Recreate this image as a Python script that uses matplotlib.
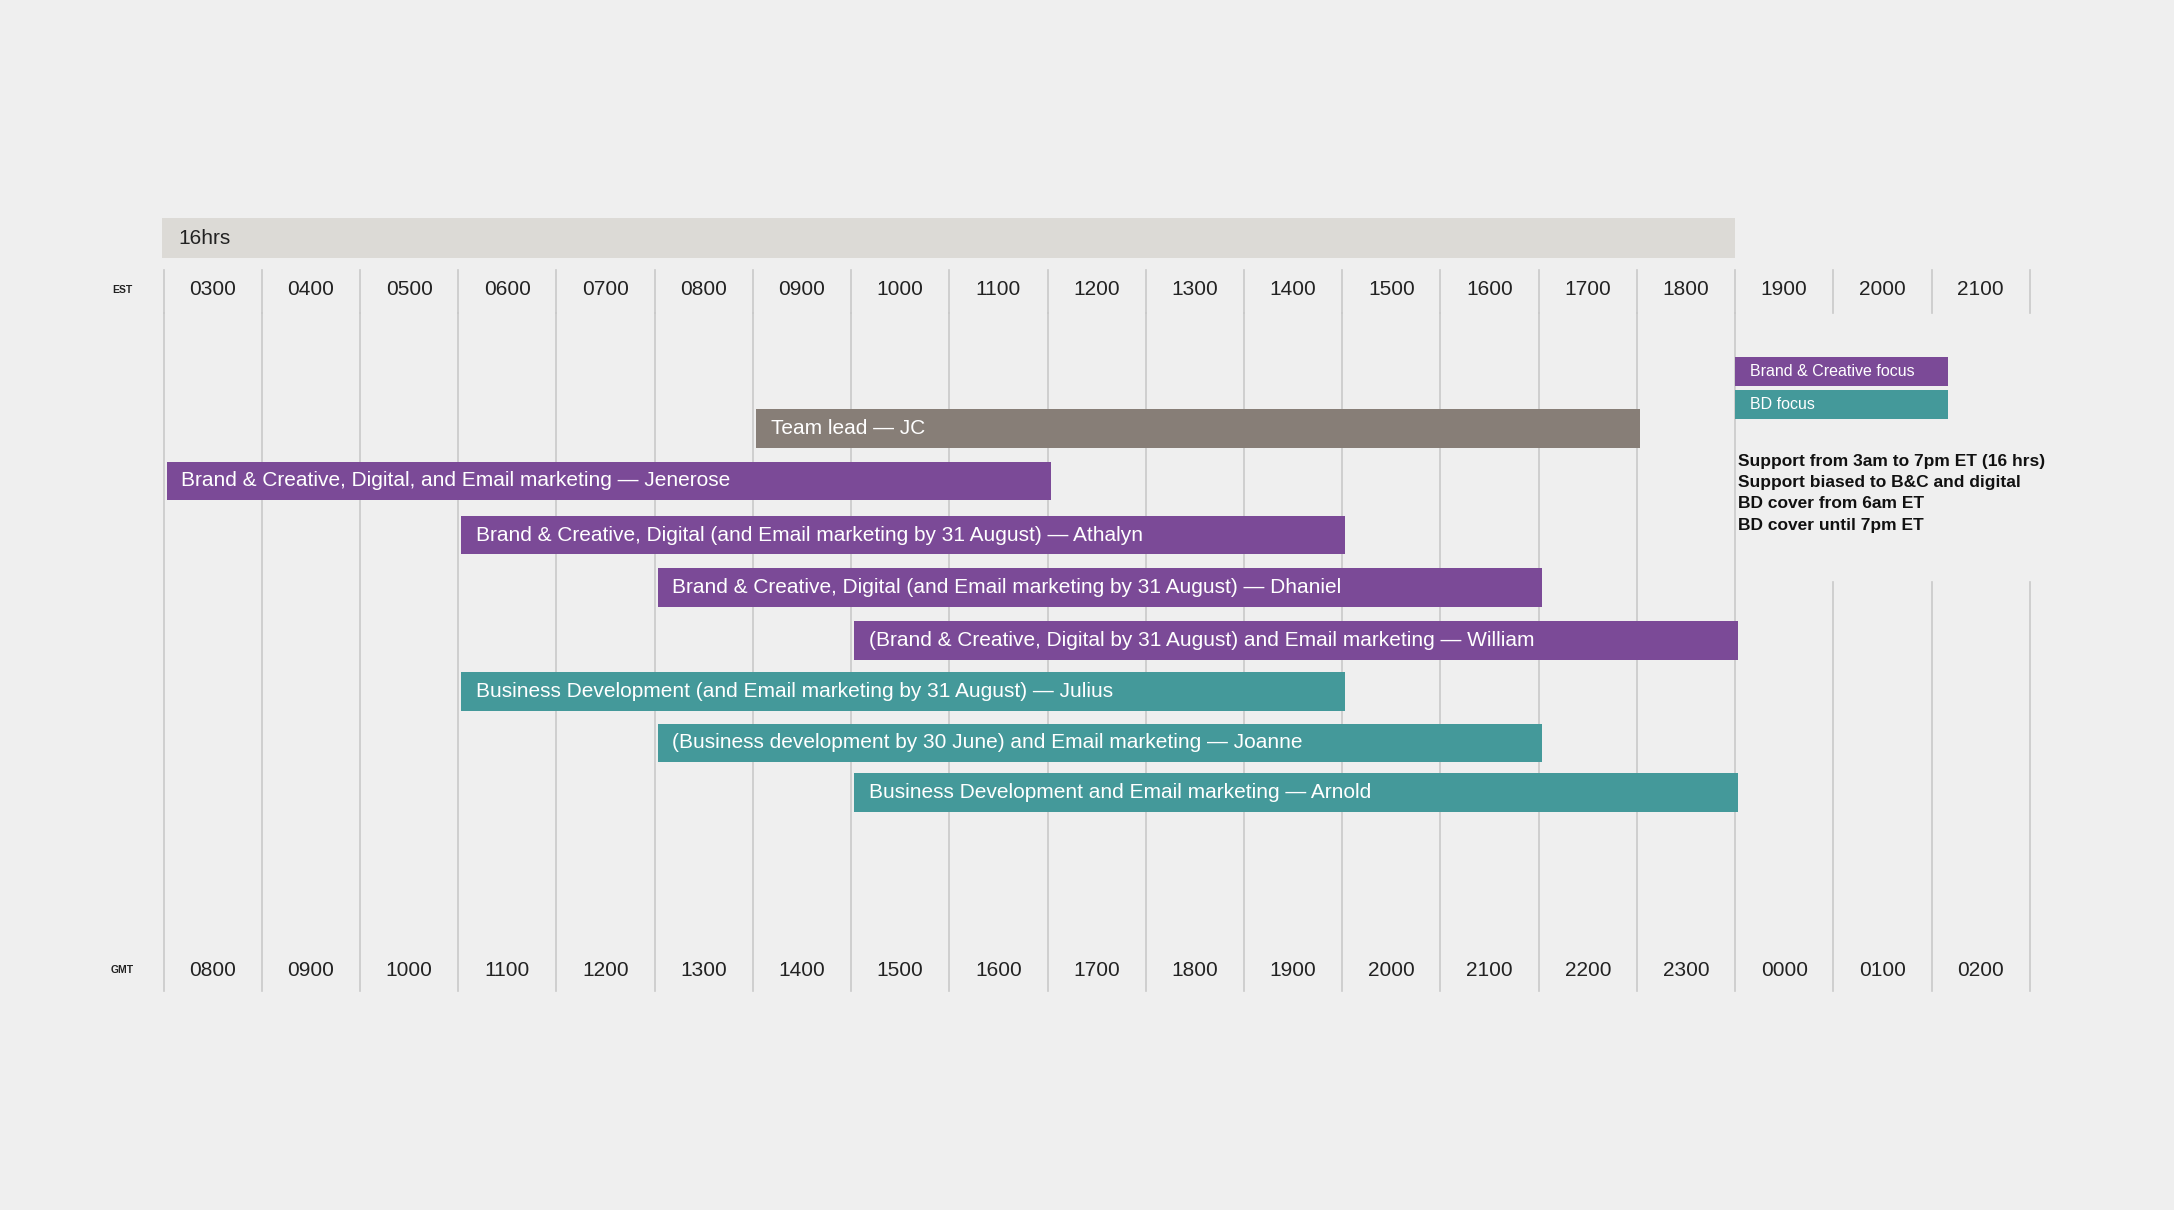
import matplotlib.pyplot as plt
import matplotlib.patches as mpatches

plt.rcParams['font.family'] = ['Liberation Sans', 'DejaVu Sans']

est_hours = ["0300", "0400", "0500", "0600", "0700", "0800", "0900", "1000", "1100", "1200",
             "1300", "1400", "1500", "1600", "1700", "1800", "1900", "2000", "2100"]
gmt_hours = ["0800", "0900", "1000", "1100", "1200", "1300", "1400", "1500", "1600", "1700",
             "1800", "1900", "2000", "2100", "2200", "2300", "0000", "0100", "0200"]

labels = ["Team lead — JC",
          "Brand & Creative, Digital, and Email marketing — Jenerose",
          "Brand & Creative, Digital (and Email marketing by 31 August) — Athalyn",
          "Brand & Creative, Digital (and Email marketing by 31 August) — Dhaniel",
          "(Brand & Creative, Digital by 31 August) and Email marketing — William",
          "Business Development (and Email marketing by 31 August) — Julius",
          "(Business development by 30 June) and Email marketing — Joanne",
          "Business Development and Email marketing — Arnold"]
starts = [6, 0, 3, 5, 7, 3, 5, 7]       # hours after 0300 EST
ends = [15, 9, 12, 14, 16, 12, 14, 16]
kinds = ["lead", "bc", "bc", "bc", "bc", "bd", "bd", "bd"]
notes = ["Support from 3am to 7pm ET (16 hrs)",
         "Support biased to B&C and digital",
         "BD cover from 6am ET",
         "BD cover until 7pm ET"]

colors = {"lead": "#877e77", "bc": "#7b4a97", "bd": "#44999a"}
bg = "#efefef"
gridc = "#c9c9c9"

fig = plt.figure(figsize=(21.74, 12.1), dpi=100, facecolor=bg)
ax = fig.add_axes([0, 0, 1, 1])
ax.set_facecolor(bg)
u = 70.84  # reference px per hour
ax.set_xlim(-118 / u, (1568 - 118) / u)
ax.set_ylim(873, 0)
ax.axis('off')

n = len(est_hours)
# 16 hrs band
ax.add_patch(mpatches.Rectangle((-0.02, 157), 16.02, 29, color="#dcdad6", lw=0))
ax.text(0.15, 172, "16hrs", fontsize=15, va='center', color="#222")

# grid lines
for i in range(n + 1):
    ax.plot([i, i], [195, 226], color=gridc, lw=1.2, zorder=0)
    if i <= 16:
        ax.plot([i, i], [226, 715], color=gridc, lw=1.2, zorder=0)
    else:
        ax.plot([i, i], [420, 715], color=gridc, lw=1.2, zorder=0)

for i in range(n):
    ax.text(i + 0.5, 209, est_hours[i], ha='center', va='center', fontsize=15, color="#222")
    ax.text(i + 0.5, 700, gmt_hours[i], ha='center', va='center', fontsize=15, color="#222")
ax.text(-0.42, 209, "EST", ha='center', va='center', fontsize=7.5, weight='bold', color="#222")
ax.text(-0.42, 700, "GMT", ha='center', va='center', fontsize=7.5, weight='bold', color="#222")

row_y = [309, 347, 386, 424, 462, 499, 536, 572]
for lab, s, e, k, y in zip(labels, starts, ends, kinds, row_y):
    ax.barh(y, e - s, left=s + 0.03, height=28, color=colors[k], zorder=2)
    ax.text(s + 0.18, y, lab, va='center', fontsize=15, color="white", zorder=3)

# legend
for txt, k, y in [("Brand & Creative focus", "bc", 268), ("BD focus", "bd", 292)]:
    ax.barh(y, 2.17, left=16, height=21, color=colors[k])
    ax.text(16.15, y, txt, va='center', fontsize=11.5, color="white")

for j, t in enumerate(notes):
    ax.text(16.03, 333 + 15.3 * j, t, va='center', fontsize=12.5, weight='bold', color="#111")

fig.savefig("out.png", dpi=100, facecolor=bg)
